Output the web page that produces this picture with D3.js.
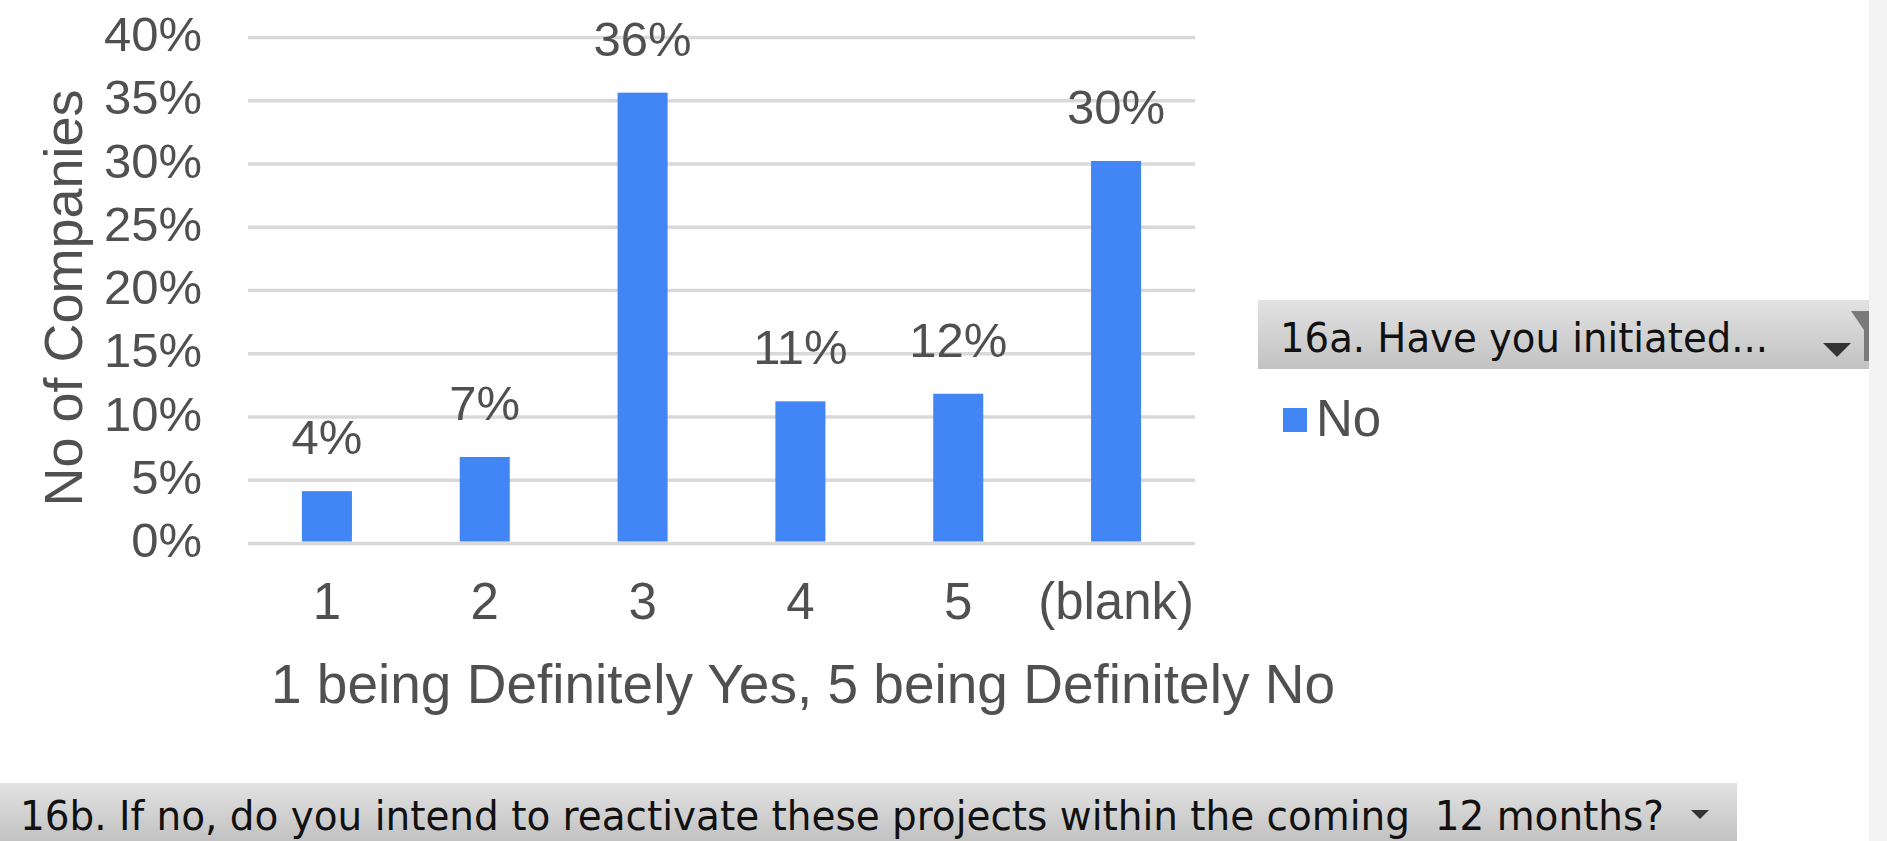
<!DOCTYPE html>
<html>
<head>
<meta charset="utf-8">
<script src="https://cdn.jsdelivr.net/npm/d3@7"></script>
<style>
  html, body { margin: 0; padding: 0; background: #ffffff; }
  svg { display: block; }
</style>
</head>
<body>
<svg id="chart" width="1887" height="841"></svg>
<script>
// ---- data ----
const categories = ["1", "2", "3", "4", "5", "(blank)"];
const values = [0.041, 0.068, 0.356, 0.112, 0.118, 0.302];
const yTicks = [0, 0.05, 0.10, 0.15, 0.20, 0.25, 0.30, 0.35, 0.40];
const seriesName = "No";
const yTitle = "No of Companies";
const xTitle = "1 being Definitely Yes, 5 being Definitely No";
const filterLabel = "16a. Have you initiated...";
const axisFieldLabel = "16b. If no, do you intend to reactivate these projects within the coming\u00a0 12 months?";

// ---- layout ----
const W = 1887, H = 841;
const plot = { left: 248, right: 1195, top: 37, bottom: 543 };
const textColor = "#505050";
const barColor = "#4285f4";
const font = "'Liberation Sans', Arial, sans-serif";
const uiFont = "'DejaVu Sans Condensed', 'DejaVu Sans', sans-serif";

const svg = d3.select("#chart");

// right strip
svg.append("rect").attr("x", 1869).attr("y", 0).attr("width", W - 1869).attr("height", H).attr("fill", "#f3f3f3");

const defs = svg.append("defs");
const grad = defs.append("linearGradient").attr("id", "hdr").attr("x1", 0).attr("y1", 0).attr("x2", 0).attr("y2", 1);
grad.append("stop").attr("offset", "0%").attr("stop-color", "#e2e2e2");
grad.append("stop").attr("offset", "100%").attr("stop-color", "#c2c2c2");

const x = d3.scaleBand().domain(categories).range([plot.left, plot.right])
  .paddingInner(0.683).paddingOuter(0.683 / 2);
const y = d3.scaleLinear().domain([0, 0.4]).range([plot.bottom, plot.top]);

// gridlines + y tick labels via axis
const yAxis = d3.axisLeft(y).tickValues(yTicks).tickFormat(d3.format(".0%"))
  .tickSize(-(plot.right - plot.left)).tickPadding(46);
const gy = svg.append("g").attr("transform", `translate(${plot.left},0)`).call(yAxis);
gy.select(".domain").remove();
gy.selectAll(".tick line").attr("stroke", "#d9d9d9").attr("stroke-width", 3.5);
gy.selectAll(".tick text").attr("fill", textColor).attr("font-family", font)
  .attr("font-size", 49).attr("dy", "0.28em");

// bars
svg.append("g").selectAll("rect").data(values).join("rect")
  .attr("x", (d, i) => x(categories[i]))
  .attr("width", x.bandwidth())
  .attr("y", d => y(d))
  .attr("height", d => y(0) - y(d) - 1.5)
  .attr("fill", barColor);

// value labels
svg.append("g").selectAll("text").data(values).join("text")
  .attr("x", (d, i) => x(categories[i]) + x.bandwidth() / 2)
  .attr("y", d => y(d) - 37)
  .attr("text-anchor", "middle")
  .attr("font-family", font).attr("font-size", 49).attr("fill", textColor)
  .text(d => d3.format(".0%")(d));

// x axis labels
const xAxis = d3.axisBottom(x).tickSize(0).tickPadding(0);
const gx = svg.append("g").attr("transform", `translate(0,${plot.bottom})`).call(xAxis);
gx.select(".domain").remove();
gx.selectAll(".tick text").attr("fill", textColor).attr("font-family", font)
  .attr("font-size", 51).attr("dy", null).attr("y", 76);

// axis titles
svg.append("text").attr("x", 803).attr("y", 703).attr("text-anchor", "middle")
  .attr("font-family", font).attr("font-size", 55).attr("fill", textColor).text(xTitle);
svg.append("text").attr("transform", "translate(82,298) rotate(-90)").attr("text-anchor", "middle")
  .attr("font-family", font).attr("font-size", 54).attr("fill", textColor).text(yTitle);

// filter header (legend area)
svg.append("rect").attr("x", 1258).attr("y", 300).attr("width", 1869 - 1258).attr("height", 69).attr("fill", "url(#hdr)");
svg.append("text").attr("x", 1280).attr("y", 352).attr("font-family", uiFont).attr("font-size", 40)
  .attr("fill", "#111").attr("textLength", 488).attr("lengthAdjust", "spacingAndGlyphs").text(filterLabel);
svg.append("path").attr("d", "M1823,343 L1851,343 L1837,357 Z").attr("fill", "#333");
svg.append("path").attr("d", "M1851,311 L1869,311 L1869,361 L1864,361 L1864,330 Z").attr("fill", "#7a7a7a");

// legend
svg.append("rect").attr("x", 1283).attr("y", 408).attr("width", 24).attr("height", 24).attr("fill", barColor);
svg.append("text").attr("x", 1316).attr("y", 436).attr("font-family", font).attr("font-size", 51)
  .attr("fill", textColor).text(seriesName);

// axis field header at bottom
svg.append("rect").attr("x", 0).attr("y", 783).attr("width", 1737).attr("height", H - 783).attr("fill", "url(#hdr)");
svg.append("text").attr("x", 20).attr("y", 830).attr("font-family", uiFont).attr("font-size", 40)
  .attr("fill", "#111").attr("textLength", 1644).attr("lengthAdjust", "spacingAndGlyphs").text(axisFieldLabel);
svg.append("path").attr("d", "M1691,810 L1709,810 L1700,819 Z").attr("fill", "#333");
</script>
</body>
</html>
